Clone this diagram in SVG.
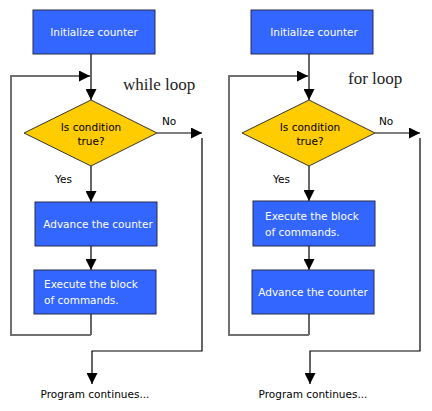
<svg xmlns="http://www.w3.org/2000/svg" width="432" height="411" viewBox="0 0 432 411">
<style>
.box{fill:#3366FF;stroke:#2a2a4a;stroke-width:1}
.dia{fill:#FFCC00;stroke:#333;stroke-width:1}
.wt{font-family:"DejaVu Sans",Verdana,sans-serif;font-size:10.5px;fill:#fff}
.bt{font-family:"DejaVu Sans",Verdana,sans-serif;font-size:10.5px;fill:#000}
.title{font-family:"Liberation Serif","Times New Roman",serif;font-size:17px;fill:#222}
.ln{fill:none;stroke:#000;stroke-width:1.2}
.gl{fill:none;stroke:#707070;stroke-width:2}
</style>
<defs>
<marker id="ah" markerUnits="userSpaceOnUse" markerWidth="11" markerHeight="11" refX="10" refY="5" orient="auto" viewBox="0 0 10 10">
<path d="M0,0 L10,5 L0,10 z" fill="#000"/>
</marker>
</defs>
<rect width="432" height="411" fill="#fff"/>
<g id="connectors">
<path class="ln" d="M91,54 V100" marker-end="url(#ah)"/>
<path class="ln" d="M91,166 V202" marker-end="url(#ah)"/>
<path class="ln" d="M91,246 V270" marker-end="url(#ah)"/>
<path class="ln" d="M157,133 H202" marker-end="url(#ah)"/>
<path class="ln" d="M202,138 V351 H92 V384" marker-end="url(#ah)"/>
<path class="ln" d="M91,314 V335"/>
<path class="gl" d="M91,335 H11 V76 H80"/>
<path class="ln" d="M80,76 H90" marker-end="url(#ah)"/>
<path class="ln" d="M309,54 V100" marker-end="url(#ah)"/>
<path class="ln" d="M309,166 V201" marker-end="url(#ah)"/>
<path class="ln" d="M309,246 V270" marker-end="url(#ah)"/>
<path class="ln" d="M375,133 H420" marker-end="url(#ah)"/>
<path class="ln" d="M420,138 V351 H310 V384" marker-end="url(#ah)"/>
<path class="ln" d="M309,314 V335"/>
<path class="gl" d="M309,335 H229 V76 H298"/>
<path class="ln" d="M298,76 H308" marker-end="url(#ah)"/>
</g>
<g id="while-title"><text class="title" x="123" y="90">while loop</text></g>
<g id="for-title"><text class="title" x="348" y="84">for loop</text></g>
<g id="w-init">
<rect class="box" x="33" y="10" width="122" height="44"/>
<text class="wt" x="94" y="36" text-anchor="middle">Initialize counter</text>
</g>
<g id="w-cond">
<polygon class="dia" points="24,133 91,100 157,133 91,166"/>
<text class="bt" x="91" y="131" text-anchor="middle">Is condition</text>
<text class="bt" x="91" y="145" text-anchor="middle">true?</text>
</g>
<g id="w-no"><text class="bt" x="162" y="125">No</text></g>
<g id="w-yes"><text class="bt" x="55" y="183">Yes</text></g>
<g id="w-advance">
<rect class="box" x="35" y="202" width="122" height="44"/>
<text class="wt" x="98" y="228" text-anchor="middle">Advance the counter</text>
</g>
<g id="w-execute">
<rect class="box" x="34" y="270" width="122" height="44"/>
<text class="wt" x="44" y="288">Execute the block</text>
<text class="wt" x="44" y="304">of commands.</text>
</g>
<g id="w-end"><text class="bt" x="95" y="398" text-anchor="middle">Program continues...</text></g>
<g id="f-init">
<rect class="box" x="251" y="10" width="122" height="44"/>
<text class="wt" x="314" y="36" text-anchor="middle">Initialize counter</text>
</g>
<g id="f-cond">
<polygon class="dia" points="242,133 309,100 375,133 309,166"/>
<text class="bt" x="310" y="131" text-anchor="middle">Is condition</text>
<text class="bt" x="310" y="145" text-anchor="middle">true?</text>
</g>
<g id="f-no"><text class="bt" x="379" y="125">No</text></g>
<g id="f-yes"><text class="bt" x="273" y="183">Yes</text></g>
<g id="f-execute">
<rect class="box" x="253" y="201" width="122" height="45"/>
<text class="wt" x="265" y="220">Execute the block</text>
<text class="wt" x="265" y="236">of commands.</text>
</g>
<g id="f-advance">
<rect class="box" x="252" y="270" width="122" height="44"/>
<text class="wt" x="313" y="296" text-anchor="middle">Advance the counter</text>
</g>
<g id="f-end"><text class="bt" x="313" y="398" text-anchor="middle">Program continues...</text></g>
</svg>
